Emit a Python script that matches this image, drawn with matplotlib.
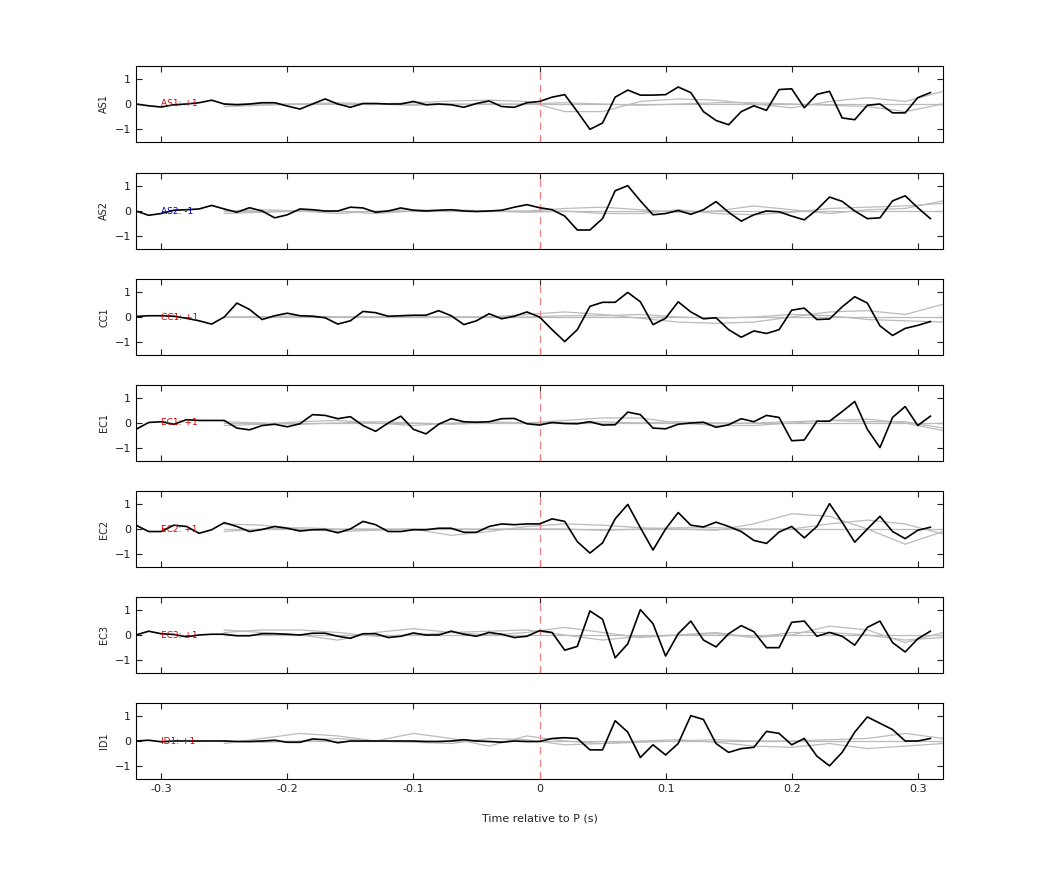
import numpy as np
import matplotlib
matplotlib.use("Agg")
import matplotlib.pyplot as plt

t = np.round(np.arange(-0.32, 0.315, 0.01), 2)
tg = np.round(np.arange(-0.25, 0.33, 0.03), 2)

stations = ["AS1", "AS2", "CC1", "EC1", "EC2", "EC3", "ID1"]
labels = ["AS1: +1", "AS2: -1", "CC1: +1", "EC1: +1", "EC2: +1", "EC3: +1", "ID1: +1"]
label_colors = ["#d00000", "#0000c0", "#d00000", "#d00000", "#d00000", "#d00000", "#d00000"]

AS1 = [0.0,-0.07,-0.12,-0.03,0.0,0.05,0.15,0.0,-0.03,0.0,0.05,0.05,-0.08,-0.2,0.0,0.2,0.0,-0.13,0.02,0.02,
       0.0,0.0,0.1,-0.03,0.0,-0.03,-0.13,0.02,0.12,-0.1,-0.13,0.05,0.1,0.27,0.37,-0.3,-1.0,-0.75,0.27,0.55,
       0.35,0.35,0.37,0.67,0.45,-0.3,-0.65,-0.82,-0.3,-0.07,-0.25,0.57,0.6,-0.15,0.38,0.5,-0.55,-0.62,-0.05,0.0,
       -0.35,-0.35,0.25,0.45]
AS2 = [0.0,-0.17,-0.1,0.03,0.05,0.08,0.22,0.08,-0.05,0.13,0.0,-0.27,-0.15,0.08,0.05,0.0,0.0,0.15,0.12,-0.05,
       0.0,0.12,0.03,0.0,0.03,0.05,0.0,-0.02,0.0,0.03,0.15,0.25,0.13,0.05,-0.2,-0.75,-0.75,-0.3,0.8,1.0,
       0.4,-0.15,-0.1,0.02,-0.13,0.05,0.37,-0.05,-0.4,-0.15,0.0,-0.03,-0.2,-0.35,0.05,0.55,0.38,0.0,-0.3,-0.27,
       0.4,0.6,0.13,-0.3]
CC1 = [0.02,0.05,0.05,0.03,-0.05,-0.15,-0.28,0.0,0.55,0.3,-0.1,0.05,0.15,0.05,0.03,-0.03,-0.28,-0.15,0.22,0.17,
       0.03,0.05,0.07,0.07,0.25,0.05,-0.3,-0.15,0.13,-0.07,0.03,0.2,0.0,-0.5,-0.97,-0.5,0.42,0.58,0.58,0.97,
       0.6,-0.3,-0.05,0.6,0.2,-0.07,-0.03,-0.5,-0.8,-0.55,-0.65,-0.5,0.27,0.35,-0.1,-0.08,0.4,0.8,0.55,-0.35,
       -0.73,-0.45,-0.33,-0.18]
EC1 = [-0.25,0.02,0.05,-0.05,0.13,0.1,0.1,0.1,-0.2,-0.27,-0.1,-0.05,-0.15,-0.03,0.33,0.3,0.17,0.25,-0.1,-0.33,
       0.0,0.27,-0.25,-0.43,-0.05,0.17,0.05,0.03,0.05,0.17,0.18,-0.03,-0.08,0.02,-0.02,-0.03,0.05,-0.08,-0.07,0.43,
       0.33,-0.2,-0.23,-0.05,0.0,0.03,-0.17,-0.07,0.17,0.05,0.3,0.22,-0.7,-0.67,0.07,0.07,0.45,0.85,-0.25,-0.97,
       0.22,0.65,-0.1,0.27]
EC2 = [0.15,-0.1,-0.1,0.15,0.1,-0.17,-0.03,0.25,0.1,-0.1,-0.02,0.1,0.03,-0.08,-0.03,-0.02,-0.15,0.0,0.3,0.17,
       -0.1,-0.1,-0.03,-0.03,0.03,0.03,-0.13,-0.13,0.1,0.2,0.17,0.2,0.2,0.4,0.3,-0.5,-0.95,-0.55,0.4,0.97,
       0.05,-0.83,0.0,0.65,0.15,0.08,0.27,0.1,-0.1,-0.45,-0.57,-0.12,0.1,-0.35,0.1,1.0,0.27,-0.52,0.0,0.5,
       -0.1,-0.38,-0.05,0.07]
EC3 = [0.0,0.15,0.05,0.02,-0.07,0.0,0.03,0.03,-0.03,-0.03,0.05,0.05,0.03,0.0,0.07,0.07,-0.05,-0.13,0.05,0.05,
       -0.1,-0.05,0.08,0.0,0.0,0.15,0.03,-0.05,0.1,0.03,-0.1,-0.05,0.17,0.1,-0.6,-0.45,0.95,0.62,-0.9,-0.35,
       1.0,0.45,-0.83,0.05,0.55,-0.2,-0.47,0.05,0.37,0.13,-0.5,-0.5,0.5,0.55,-0.05,0.1,-0.05,-0.4,0.3,0.55,
       -0.3,-0.67,-0.15,0.15]
ID1 = [0.0,0.03,-0.03,0.0,0.0,0.0,0.0,0.0,-0.02,-0.02,0.0,0.03,-0.05,-0.05,0.08,0.05,-0.07,0.0,0.0,0.0,
       0.0,0.0,0.0,-0.02,-0.02,0.0,0.05,0.0,-0.02,-0.05,0.0,-0.02,-0.02,0.1,0.13,0.1,-0.35,-0.35,0.8,0.35,
       -0.65,-0.15,-0.55,-0.1,1.0,0.85,-0.1,-0.45,-0.3,-0.25,0.38,0.3,-0.15,0.1,-0.6,-0.98,-0.45,0.35,0.95,0.7,
       0.45,0.0,0.0,0.1]
black = [AS1, AS2, CC1, EC1, EC2, EC3, ID1]

# gray synthetic traces sampled at tg
gray = [
    [[0,0,0,0,0,0.05,0.12,0.15,0.1,-0.3,-0.3,0.1,0.2,0.15,0.0,-0.15,0.1,0.25,0.1,0.5],
     [-0.1,-0.05,0,0.05,0,-0.05,0,0,0,0.05,0,-0.05,0,0.05,0.05,0,-0.05,-0.1,-0.3,0.0],
     [0,0,0,0,0,0,0,0,0,0,0,0,0,0,0,0,0,0,0,0]],
    [[-0.1,-0.05,0,-0.1,0,0.05,0,0,0,0.1,0.15,0.05,-0.05,0,0.2,0.05,-0.1,0.05,0.1,0.4],
     [0.0,0.05,0,0,-0.1,0,0.05,0,-0.05,0,-0.1,-0.1,0.05,-0.1,-0.15,-0.05,0.1,0.15,0.2,0.3],
     [0,0,0,0,0,0,0,0,0,0,0,0,0,0,0,0,0,0,0,0]],
    [[0,0,0,0,0,0,0,0,0.1,0.2,0.1,-0.05,-0.2,-0.25,-0.2,0.0,0.2,0.25,0.1,0.5],
     [0,0,0.05,0,0,0,0,0,0,0.05,0.05,0.1,0,-0.05,0,0.1,0.05,-0.1,-0.15,-0.2],
     [0,0,0,0,0,0,0,0,0,0,0,0,0,0,0,0,0,0,0,0]],
    [[-0.1,-0.05,0.05,0.1,0,-0.1,0,0.05,0,0.1,0.2,0.2,0.0,-0.1,-0.1,0,0.1,0.15,0.0,-0.3],
     [0.05,0,-0.05,0,0.05,0,-0.05,0,0,0,0.05,0,0.05,0,0,0.05,0.1,0.05,0.05,-0.2],
     [0,0,0,0,0,0,0,0,0,0,0,0,0,0,0,0,0,0,0,0]],
    [[0.2,0.15,0.0,-0.1,-0.05,0,-0.25,-0.1,0.1,0.2,0.15,0.05,0,-0.05,0.2,0.6,0.5,0.0,-0.6,-0.1],
     [-0.1,0,0.05,0,0,0,0,0,0,0,-0.05,0,0.05,0.05,0,0,0.2,0.35,0.2,-0.2],
     [0,0,0,0,0,0,0,0,0,0,0,0,0,0,0,0,0,0,0,0]],
    [[0.2,0.1,0,-0.2,0.1,0.25,0.1,0,0.1,0.3,0.1,-0.1,0,0.1,-0.1,0,0.35,0.2,-0.3,0.1],
     [0.1,0.2,0.2,0.1,-0.05,0.0,0.1,0.15,0.2,0,-0.2,-0.05,0,0.05,-0.1,0.1,0.1,0,-0.2,-0.1],
     [0,0,0,0,0,0,0,0,0,0,0,0,0,0,0,0,0,0,0,0]],
    [[-0.1,0.1,0.3,0.2,0.0,0.3,0.1,-0.2,0.2,0.0,-0.1,-0.05,0,0.05,0,0,0.05,0.1,0.3,0.1],
     [0,-0.05,0,0.1,0,-0.05,-0.1,0.1,0.05,-0.15,-0.1,0,0.05,-0.05,-0.2,-0.25,-0.1,-0.3,-0.2,-0.1],
     [0,0,0,0,0,0,0,0,0,0,0,0,0,0,0,0,0,0,0,0]],
]

fig = plt.figure(figsize=(10.42, 8.75), dpi=100)
W, H = 1042, 875
left, right = 136, 943
tops = [66, 173, 279, 385, 491, 597, 703]
ph = 76
for i in range(7):
    ax = fig.add_axes([left / W, 1 - (tops[i] + ph) / H, (right - left) / W, ph / H])
    for g in gray[i]:
        ax.plot(tg, g, color="#bbbbbb", lw=0.9)
    ax.axvline(0, color="#f08080", ls=(0, (6, 4)), lw=0.9)
    ax.plot(t, black[i], color="black", lw=1.2)
    ax.text(-0.3, 0, labels[i], color=label_colors[i], fontsize=6.5, va="center", ha="left")
    ax.set_xlim(-0.32, 0.32)
    ax.set_ylim(-1.5, 1.5)
    ax.set_yticks([-1, 0, 1])
    ax.set_xticks([-0.3, -0.2, -0.1, 0, 0.1, 0.2, 0.3])
    ax.tick_params(direction="in", top=True, right=True, labelsize=8, colors="#222222", length=4)
    ax.set_ylabel(stations[i], fontsize=7, color="#222222")
    if i < 6:
        ax.set_xticklabels([])
    else:
        ax.set_xticklabels(["-0.3", "-0.2", "-0.1", "0", "0.1", "0.2", "0.3"])
        ax.set_xlabel("Time relative to P (s)", fontsize=8, color="#222222", labelpad=14)
fig.savefig("out.png", dpi=100)
